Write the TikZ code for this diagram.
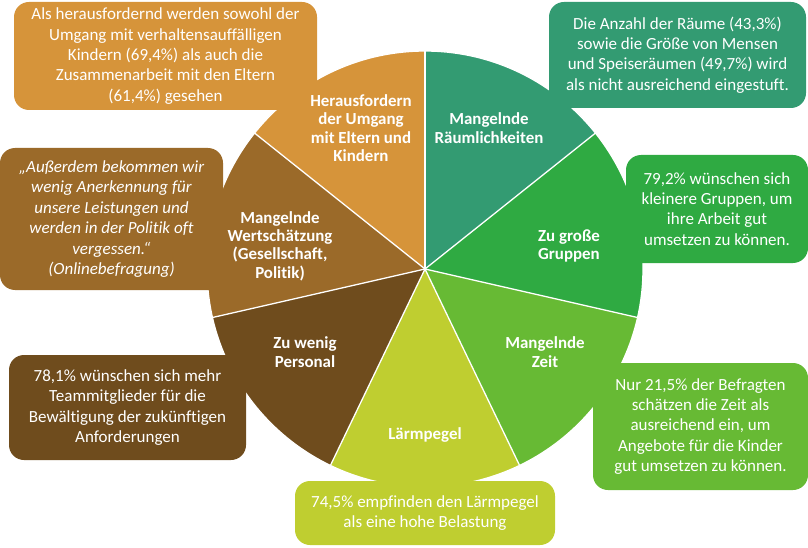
\documentclass[tikz,border=0pt]{standalone}
\usepackage{fontspec}
\setmainfont{Carlito}[RawFeature={-liga}]
\definecolor{cOrange}{HTML}{D6943A}
\definecolor{cTeal}{HTML}{339B72}
\definecolor{cGreen}{HTML}{2FAA42}
\definecolor{cLight}{HTML}{67BA34}
\definecolor{cYellow}{HTML}{BFCE30}
\definecolor{cDark}{HTML}{6F4C1D}
\definecolor{cBrown}{HTML}{9B6A29}
\tikzset{
  infobox/.style={rounded corners=15pt, inner sep=0pt, text=white, align=center,
    font=\fontsize{17}{20.3}\selectfont},
  slicelabel/.style={text=white, align=center, inner sep=0pt,
    font=\fontsize{16.9}{18.4}\selectfont\bfseries},
  slice/.style={draw=white, line width=1.3pt, line join=round}
}
\begin{document}
\begin{tikzpicture}[x=1pt,y=1pt]
\useasboundingbox (0,0) rectangle (808,547);
\coordinate (c) at (425,278);
% pie slices
\fill[cTeal]   (c) -- ++(38.57:218) arc[start angle=38.57, end angle=90, radius=218] -- cycle;
\fill[cGreen]  (c) -- ++(-12.86:218) arc[start angle=-12.86, end angle=38.57, radius=218] -- cycle;
\fill[cLight]  (c) -- ++(-64.29:218) arc[start angle=-64.29, end angle=-12.86, radius=218] -- cycle;
\fill[cYellow] (c) -- ++(-115.71:218) arc[start angle=-115.71, end angle=-64.29, radius=218] -- cycle;
\fill[cDark]   (c) -- ++(-167.14:218) arc[start angle=-167.14, end angle=-115.71, radius=218] -- cycle;
\fill[cBrown]  (c) -- ++(141.43:218) arc[start angle=141.43, end angle=192.86, radius=218] -- cycle;
\fill[cOrange] (c) -- ++(90:218) arc[start angle=90, end angle=141.43, radius=218] -- cycle;
\draw[slice] (c) circle[radius=218];
\foreach \a in {90,38.57,-12.86,-64.29,-115.71,-167.14,141.43}
  \draw[slice] (c) -- ++(\a:218);
% info boxes
\node[infobox, fill=cOrange, minimum width=303pt, minimum height=108pt] (b1) at (165.5,491)
  {Als herausfordernd werden sowohl der\\Umgang mit verhaltensauffälligen\\Kindern (69,4\%) als auch die\\Zusammenarbeit mit den Eltern\\(61,4\%) gesehen};
\node[infobox, fill=cTeal, minimum width=257pt, minimum height=106pt] (b2) at (677.5,492)
  {Die Anzahl der Räume (43,3\%)\\sowie die Größe von Mensen\\und Speiseräumen (49,7\%) wird\\als nicht ausreichend eingestuft.};
\node[infobox, fill=cBrown, minimum width=223pt, minimum height=142pt,
  font=\fontsize{17}{20.5}\selectfont\itshape] (b3) at (111.5,328)
  {„Außerdem bekommen wir\\wenig Anerkennung für\\unsere Leistungen und\\werden in der Politik oft\\vergessen.“\\(Onlinebefragung)};
\node[infobox, fill=cGreen, minimum width=182pt, minimum height=108pt] (b4) at (717,338)
  {79,2\% wünschen sich\\kleinere Gruppen, um\\ihre Arbeit gut\\umsetzen zu können.};
\node[infobox, fill=cDark, minimum width=237pt, minimum height=105pt] (b5) at (127.5,139.5)
  {78,1\% wünschen sich mehr\\Teammitglieder für die\\Bewältigung der zukünftigen\\Anforderungen};
\node[infobox, fill=cLight, minimum width=215pt, minimum height=127pt] (b6) at (700.5,120.5)
  {Nur 21,5\% der Befragten\\schätzen die Zeit als\\ausreichend ein, um\\Angebote für die Kinder\\gut umsetzen zu können.};
\node[infobox, fill=cYellow, minimum width=260pt, minimum height=64pt] (b7) at (425,34)
  {74,5\% empfinden den Lärmpegel\\als eine hohe Belastung};
% slice labels
\node[slicelabel] (l1) at (361,419) {Herausfordern\\der Umgang\\mit Eltern und\\Kindern};
\node[slicelabel] (l2) at (489,419) {Mangelnde\\Räumlichkeiten};
\node[slicelabel] (l3) at (569,301) {Zu große\\Gruppen};
\node[slicelabel] (l4) at (545,195) {Mangelnde\\Zeit};
\node[slicelabel] (l5) at (425,112) {Lärmpegel};
\node[slicelabel] (l6) at (305,195) {Zu wenig\\Personal};
\node[slicelabel] (l7) at (280,301) {Mangelnde\\Wertschätzung\\(Gesellschaft,\\Politik)};
\end{tikzpicture}
\end{document}
